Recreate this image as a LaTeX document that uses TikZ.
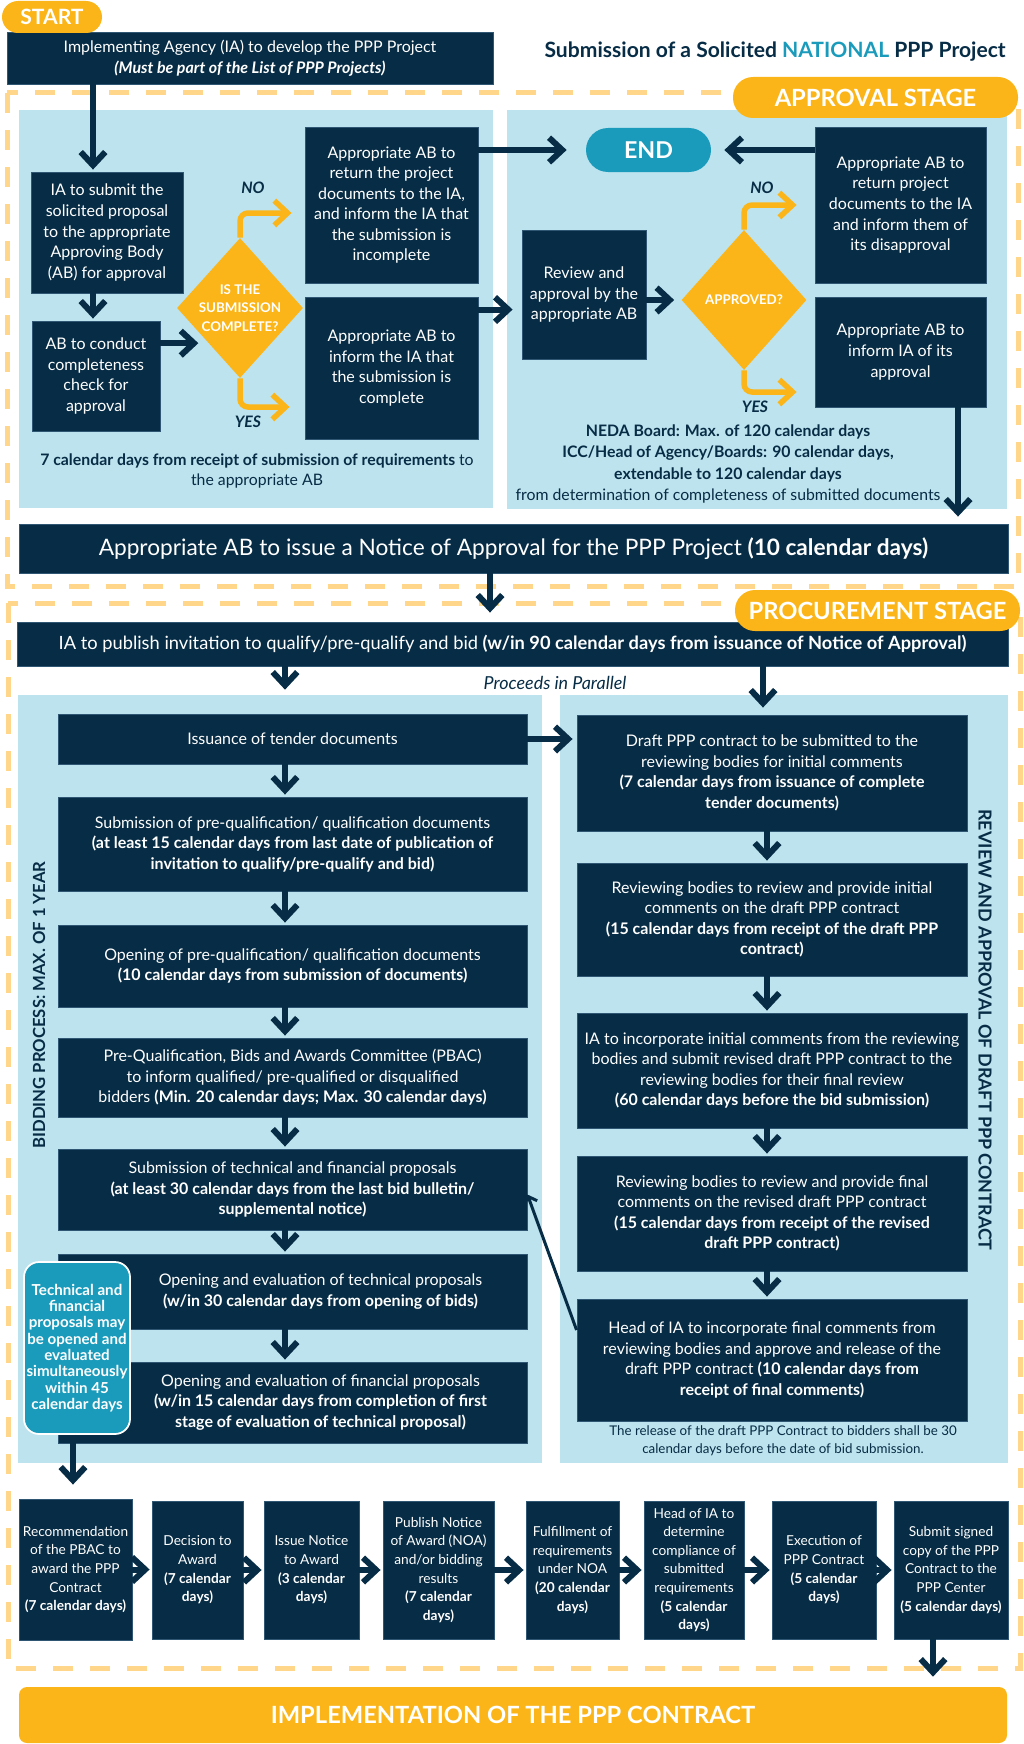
\documentclass[tikz,border=0pt]{standalone}
\usepackage{fontspec}
\setmainfont{Lato}
\usetikzlibrary{arrows.meta,shapes.geometric}

\newlength{\unitpx}
\setlength{\unitpx}{0.02cm}
\newcommand{\txtbody}{\fontsize{9.1}{11.7}\selectfont}
\newcommand{\txtrow}{\fontsize{7.8}{10.6}\selectfont}

\definecolor{navy}{HTML}{072C45}
\definecolor{boxedge}{HTML}{2F5672}
\definecolor{paleblue}{HTML}{BDE3EE}
\definecolor{gold}{HTML}{FBB518}
\definecolor{dashgold}{HTML}{FFD68A}
\definecolor{endteal}{HTML}{1B9BBB}

\begin{document}
\begin{tikzpicture}[x=0.02cm, y=-0.02cm,
  box/.style={fill=navy, draw=boxedge, line width=0.5pt, text=white, align=center, inner sep=0pt, font=\txtbody},
  rowbox/.style={box, font=\txtrow},
  sz/.style 2 args={minimum width=#1\unitpx, minimum height=#2\unitpx},
  panel/.style={fill=paleblue, inner sep=0pt},
  pill/.style={fill=gold, text=white, rounded corners=20\unitpx, inner sep=0pt, font=\fontsize{13.5}{15}\selectfont\bfseries},
  frame/.style={draw=dashgold, line width=5\unitpx, dash pattern=on 20\unitpx off 17\unitpx},
  arr/.style={draw=navy, line width=6\unitpx, -{Straight Barb[sharp, length=7.5pt, width=14pt]}, shorten >=2\unitpx},
  yarr/.style={draw=gold, line width=5.5\unitpx, rounded corners=8\unitpx, -{Straight Barb[sharp, length=7.5pt, width=14pt]}},
  thinarr/.style={draw=navy, line width=3\unitpx, -{Straight Barb[length=4pt, width=8pt]}},
  yn/.style={text=navy, font=\fontsize{9}{10}\selectfont\bfseries\itshape},
  dia/.style={diamond, fill=gold, inner sep=0pt},
  dialbl/.style={text=white, align=center, font=\fontsize{7.6}{10.5}\selectfont\bfseries},
  lbl/.style={text=white, align=center, font=\txtbody},
  note/.style={text=navy, align=center, font=\fontsize{9}{11.8}\selectfont}]
\useasboundingbox (0,0) rectangle (1024,1744);

% stage frames and panels
\draw[frame] (7,93) rectangle (1018,586);
\draw[frame] (8,603) rectangle (1020,1668);
\node[panel, sz={474}{398}] (appA) at (256,309) {};
\node[panel, sz={500}{399}] (appB) at (757,309.5) {};
\node[panel, sz={524}{768}] (bidp) at (280,1079) {};
\node[panel, sz={448}{768}] (revp) at (784,1079) {};

% header
\node[box, sz={486}{52}] (top) at (250,58) {Implementing Agency (IA) to develop the PPP Project\\\textbf{\textit{(Must be part of the List of PPP Projects)}}};
\node[anchor=east, text=navy, font=\fontsize{12}{14}\selectfont\bfseries] (title) at (1012,52) {Submission of a Solicited \textcolor{endteal}{NATIONAL} PPP Project};

% approval stage
\node[box, sz={152}{121}] (sub) at (107,232.5) {IA to submit the\\solicited proposal\\to the appropriate\\Approving Body\\(AB) for approval};
\node[box, sz={128}{110}] (chk) at (96,376) {AB to conduct\\completeness\\check for\\approval};
\node[dia, sz={126}{140}, label={[dialbl]center:{IS THE\\SUBMISSION\\COMPLETE?}}] (dia1) at (240,308) {};
\node[box, sz={173}{156}] (ret) at (391.5,205) {Appropriate AB to\\return the project\\documents to the IA,\\and inform the IA that\\the submission is\\incomplete};
\node[box, sz={173}{142}] (inf) at (391.5,368) {Appropriate AB to\\inform the IA that\\the submission is\\complete};
\node[yn] (no1) at (253,188) {NO};
\node[yn] (yes1) at (248,422) {YES};
\node[note] (time1) at (257,471) {\textbf{7 calendar days from receipt of submission of requirements} to\\the appropriate AB};

\node[fill=endteal, text=white, rounded corners=22\unitpx, sz={125}{44}, inner sep=0pt, font=\fontsize{13.2}{15}\selectfont\bfseries] (endp) at (648.5,150) {END};
\node[box, sz={171}{156}] (dis) at (900.5,205) {Appropriate AB to\\return project\\documents to the IA\\and inform them of\\its disapproval};
\node[box, sz={124}{129}] (rev) at (584,294.5) {Review and\\approval by the\\appropriate AB};
\node[dia, sz={125}{140}, label={[dialbl]center:APPROVED?}] (dia2) at (744,300) {};
\node[box, sz={171}{110}] (apr) at (900.5,352) {Appropriate AB to\\inform IA of its\\approval};
\node[yn] (no2) at (762,188) {NO};
\node[yn] (yes2) at (755,407) {YES};
\node[note, font=\fontsize{9}{12}\selectfont] (time2) at (728,464) {\textbf{NEDA Board: Max. of 120 calendar days}\\\textbf{ICC/Head of Agency/Boards: 90 calendar days,}\\\textbf{extendable to 120 calendar days}\\from determination of completeness of submitted documents};

\node[box, sz={989}{49}, font=\fontsize{12.9}{15}\selectfont] (notice) at (513.5,548.5) {Appropriate AB to issue a Notice of Approval for the PPP Project \textbf{(10 calendar days)}};

% procurement stage
\node[box, sz={991}{44}, font=\fontsize{10.4}{12}\selectfont] (pub) at (512.5,644) {IA to publish invitation to qualify/pre-qualify and bid \textbf{(w/in 90 calendar days from issuance of Notice of Approval)}};
\node[text=navy, font=\fontsize{10.2}{12}\selectfont\itshape] (par) at (555,683) {Proceeds in Parallel};

\node[box, sz={469}{50}] (iss) at (292.5,739) {Issuance of tender documents};
\node[box, sz={469}{94}] (subq) at (292.5,844) {Submission of pre-qualification/ qualification documents\\\textbf{(at least 15 calendar days from last date of publication of}\\\textbf{invitation to qualify/pre-qualify and bid)}};
\node[box, sz={469}{82}] (openq) at (292.5,966) {Opening of pre-qualification/ qualification documents\\\textbf{(10 calendar days from submission of documents)}};
\node[box, sz={469}{79}] (pbac) at (292.5,1077.5) {Pre-Qualification, Bids and Awards Committee (PBAC)\\to inform qualified/ pre-qualified or disqualified\\bidders \textbf{(Min. 20 calendar days; Max. 30 calendar days)}};
\node[box, sz={469}{81}] (subtf) at (292.5,1189.5) {Submission of technical and financial proposals\\\textbf{(at least 30 calendar days from the last bid bulletin/}\\\textbf{supplemental notice)}};
\node[box, sz={469}{75}, label={[lbl, xshift=28\unitpx]center:{Opening and evaluation of technical proposals\\\textbf{(w/in 30 calendar days from opening of bids)}}}] (opent) at (292.5,1291.5) {};
\node[box, sz={469}{81}, label={[lbl, xshift=28\unitpx]center:{Opening and evaluation of financial proposals\\\textbf{(w/in 15 calendar days from completion of first}\\\textbf{stage of evaluation of technical proposal)}}}] (openf) at (292.5,1402.5) {};
\node[fill=endteal, draw=white, line width=1pt, rounded corners=15\unitpx, sz={106}{172}, text=white, align=center, inner sep=0pt, font=\fontsize{8.6}{9.3}\selectfont\bfseries] (tnote) at (77,1348) {Technical and\\financial\\proposals may\\be opened and\\evaluated\\simultaneously\\within 45\\calendar days};
\node[rotate=90, text=navy, font=\fontsize{9.5}{11}\selectfont\bfseries] (bidlab) at (39,1005) {BIDDING PROCESS: MAX. OF 1 YEAR};

\node[box, sz={390}{116}] (draft) at (772,773) {Draft PPP contract to be submitted to the\\reviewing bodies for initial comments\\\textbf{(7 calendar days from issuance of complete}\\\textbf{tender documents)}};
\node[box, sz={390}{113}] (revi) at (772,919.5) {Reviewing bodies to review and provide initial\\comments on the draft PPP contract\\\textbf{(15 calendar days from receipt of the draft PPP}\\\textbf{contract)}};
\node[box, sz={390}{115}] (inc) at (772,1070.5) {IA to incorporate initial comments from the reviewing\\bodies and submit revised draft PPP contract to the\\reviewing bodies for their final review\\\textbf{(60 calendar days before the bid submission)}};
\node[box, sz={390}{115}] (revf) at (772,1213.5) {Reviewing bodies to review and provide final\\comments on the revised draft PPP contract\\\textbf{(15 calendar days from receipt of the revised}\\\textbf{draft PPP contract)}};
\node[box, sz={390}{122}] (head) at (772,1360) {Head of IA to incorporate final comments from\\reviewing bodies and approve and release of the\\draft PPP contract \textbf{(10 calendar days from}\\\textbf{receipt of final comments)}};
\node[text=navy, align=center, font=\fontsize{7.6}{10.3}\selectfont] (relnote) at (783,1441) {The release of the draft PPP Contract to bidders shall be 30\\calendar days before the date of bid submission.};
\node[rotate=-90, text=navy, font=\fontsize{10.2}{12}\selectfont\bfseries] (revlab) at (985,1030) {REVIEW AND APPROVAL OF DRAFT PPP CONTRACT};

% award steps
\node[rowbox, sz={113}{141}] (rec) at (75.5,1569.5) {Recommendation\\of the PBAC to\\award the PPP\\Contract\\\textbf{(7 calendar days)}};
\node[rowbox, sz={91}{138}] (dec) at (197.5,1570) {Decision to\\Award\\\textbf{(7 calendar}\\\textbf{days)}};
\node[rowbox, sz={95}{138}] (iss2) at (311.5,1570) {Issue Notice\\to Award\\\textbf{(3 calendar}\\\textbf{days)}};
\node[rowbox, sz={111}{138}] (pubn) at (438.5,1570) {Publish Notice\\of Award (NOA)\\and/or bidding\\results\\\textbf{(7 calendar}\\\textbf{days)}};
\node[rowbox, sz={93}{138}] (ful) at (572.5,1570) {Fulfillment of\\requirements\\under NOA\\\textbf{(20 calendar}\\\textbf{days)}};
\node[rowbox, sz={100}{138}] (hcomp) at (694,1570) {Head of IA to\\determine\\compliance of\\submitted\\requirements\\\textbf{(5 calendar}\\\textbf{days)}};
\node[rowbox, sz={104}{138}] (exe) at (824,1570) {Execution of\\PPP Contract\\\textbf{(5 calendar}\\\textbf{days)}};
\node[rowbox, sz={114}{138}] (sgn) at (951,1570) {Submit signed\\copy of the PPP\\Contract to the\\PPP Center\\\textbf{(5 calendar days)}};
\node[fill=gold, rounded corners=8\unitpx, sz={988}{56}, inner sep=0pt, text=white, font=\fontsize{13.5}{16}\selectfont\bfseries] (impl) at (513,1715) {IMPLEMENTATION OF THE PPP CONTRACT};

% connectors
\draw[arr] ([xshift=-14\unitpx]sub.north |- top.south) -- ([xshift=-14\unitpx]sub.north);
\draw[arr] ([xshift=-14\unitpx]sub.south) -- ([xshift=-14\unitpx]sub.south |- chk.north);
\draw[arr, shorten >=10\unitpx] (chk.east |- dia1.south west) -- (dia1.south west);
\draw[yarr] (dia1.north) |- ([xshift=-13\unitpx, yshift=-8\unitpx]ret.west);
\draw[yarr] (dia1.south) |- ([xshift=-15\unitpx, yshift=-39\unitpx]inf.west);
\draw[arr, shorten >=19\unitpx] (ret.east |- endp.west) -- (endp.west);
\draw[arr, shorten >=13\unitpx] (dis.west |- endp.east) -- (endp.east);
\draw[arr, shorten >=9\unitpx] ([yshift=-13\unitpx]inf.north east) -- ([yshift=-13\unitpx]inf.north east -| rev.west);
\draw[arr, shorten >=7\unitpx] (rev.east |- dia2.west) -- (dia2.west);
\draw[yarr] (dia2.north) |- ([xshift=-18\unitpx]dis.west);
\draw[yarr] (dia2.south) |- ([xshift=-18\unitpx, yshift=-40\unitpx]apr.west);
\draw[arr, shorten >=7\unitpx] ([xshift=57.5\unitpx]apr.south) -- ([xshift=57.5\unitpx]apr.south |- notice.north);
\draw[arr, shorten >=9\unitpx] ([xshift=-23.5\unitpx]notice.south) -- ([xshift=-23.5\unitpx]notice.south |- pub.north);

\draw[arr, shorten >=5\unitpx] ([xshift=-7.5\unitpx]pub.south -| iss.north) -- ([xshift=-7.5\unitpx]bidp.north -| iss.north);
\draw[arr, shorten >=7\unitpx] ([xshift=-9\unitpx]pub.south -| draft.north) -- ([xshift=-9\unitpx]draft.north);
\draw[arr, shorten >=4\unitpx] (iss.east) -- (iss.east -| draft.west);
\foreach \a/\b in {iss/subq, subq/openq, openq/pbac, pbac/subtf, subtf/opent, opent/openf}
  \draw[arr] ([xshift=-7.5\unitpx]\a.south) -- ([xshift=-7.5\unitpx]\b.north);
\foreach \a/\b in {draft/revi, revi/inc, inc/revf, revf/head}
  \draw[arr] ([xshift=-5\unitpx]\a.south) -- ([xshift=-5\unitpx]\b.north);
\draw[thinarr] ([yshift=30\unitpx]head.west) -- ([yshift=-5\unitpx]subtf.east);
\draw[arr, shorten >=14\unitpx] ([xshift=-4\unitpx]tnote.south) -- ([xshift=-4\unitpx]tnote.south |- rec.north);
\foreach \a/\b in {rec/dec, dec/iss2, iss2/pubn, pubn/ful, ful/hcomp, hcomp/exe, exe/sgn}
  \draw[arr] (\a.east) -- (\a.east -| \b.west);
\draw[arr, shorten >=10\unitpx] ([xshift=-18\unitpx]sgn.south) -- ([xshift=-18\unitpx]sgn.south |- impl.north);

% stage pills
\node[pill, sz={285}{41}] (apppill) at (875.5,97.5) {APPROVAL STAGE};
\node[pill, sz={285}{41}] (procpill) at (877.5,610.5) {PROCUREMENT STAGE};
\node[pill, sz={100}{32}, rounded corners=16\unitpx, font=\fontsize{12}{14}\selectfont\bfseries] (start) at (52,17) {START};
\end{tikzpicture}
\end{document}
